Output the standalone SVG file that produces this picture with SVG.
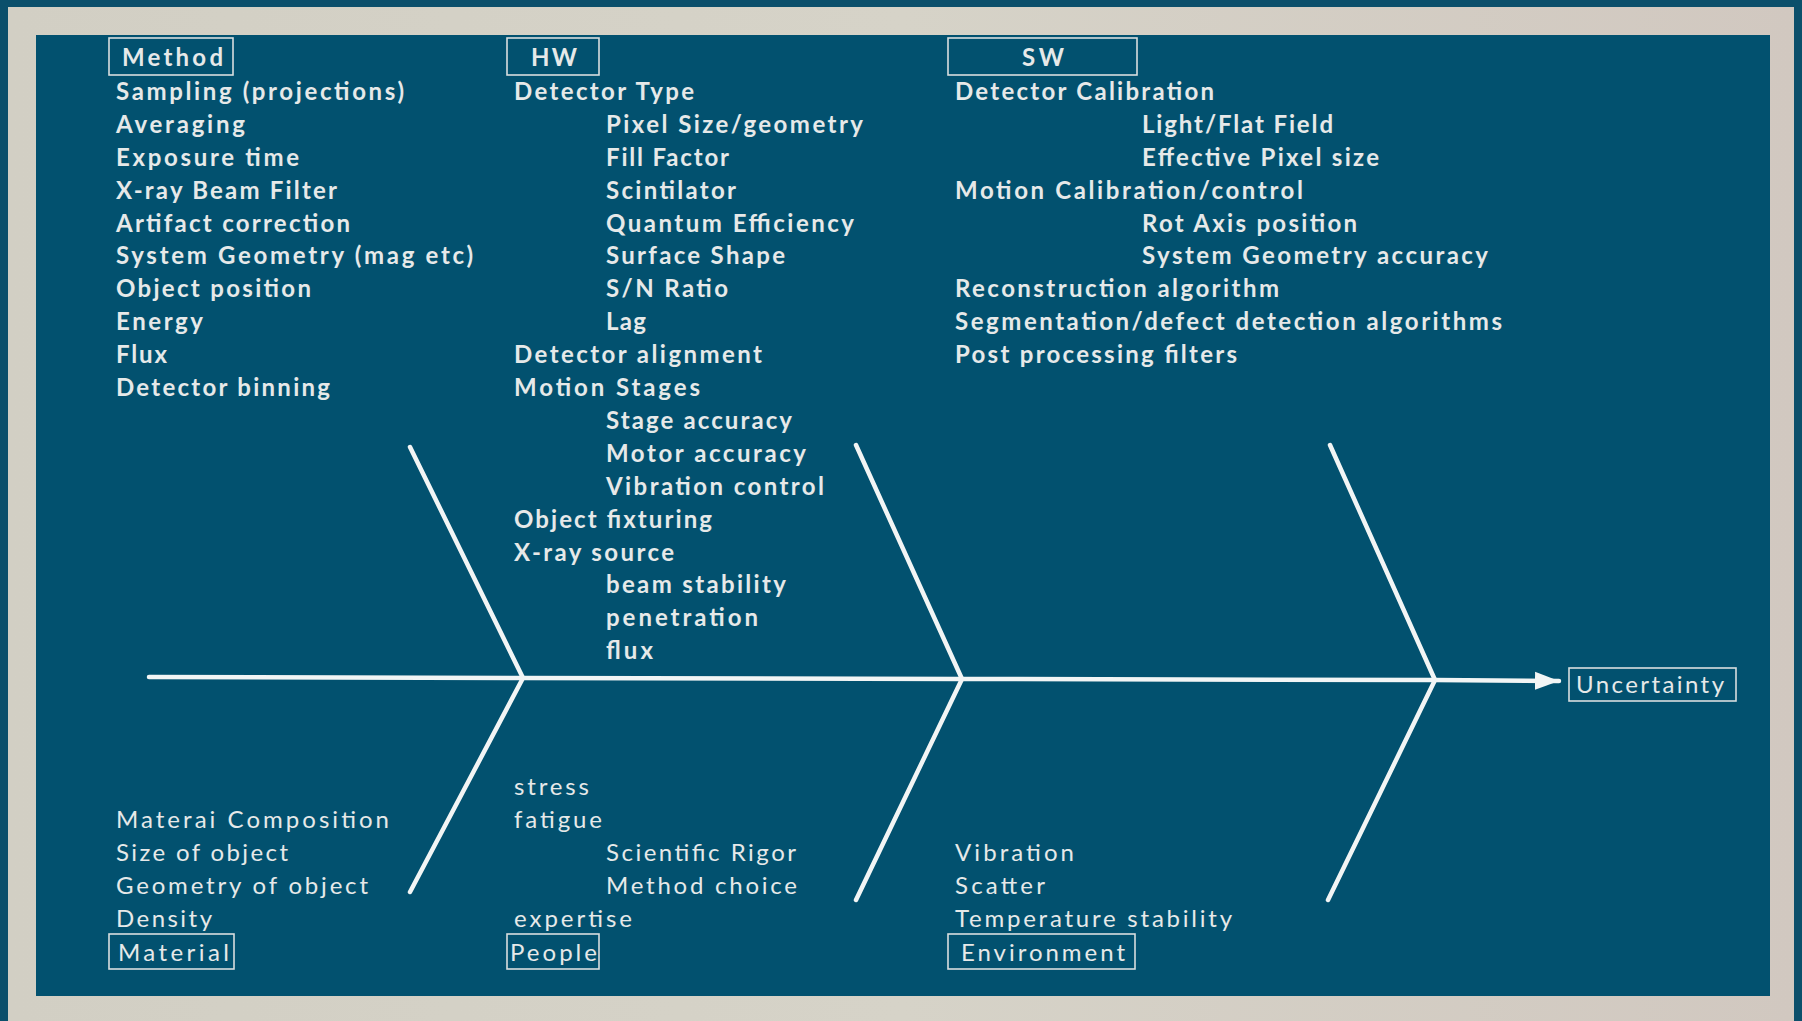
<svg xmlns="http://www.w3.org/2000/svg" width="1802" height="1021" viewBox="0 0 1802 1021">
<defs>
<linearGradient id="frame" x1="0" y1="0" x2="1" y2="0">
<stop offset="0" stop-color="#D2CFC4"/>
<stop offset="0.5" stop-color="#D6D3C8"/>
<stop offset="1" stop-color="#D1C8C0"/>
</linearGradient>
<marker id="arrow" markerUnits="userSpaceOnUse" markerWidth="28" markerHeight="22" refX="24" refY="10" orient="auto">
<path d="M0,1 L24,10 L0,19 Z" fill="#F2F5F5"/>
</marker>
</defs>
<style>
.t{font-family:Lato,"Open Sans","Liberation Sans",sans-serif;font-size:24px;font-weight:bold;fill:#E6E9E9}
.r{font-family:Lato,"Open Sans","Liberation Sans",sans-serif;font-size:24px;font-weight:normal;fill:#E6E9E9}
.box{fill:none;stroke:#D9DEDF;stroke-width:1.6}
.bone{stroke:#F2F5F5;stroke-width:4.5;stroke-linecap:round;fill:none}
</style>
<rect x="0" y="0" width="1802" height="1021" fill="#0B4F6B"/>
<rect x="8" y="7" width="1786" height="1014" fill="url(#frame)"/>
<rect x="36" y="35" width="1734" height="961" fill="#02516F"/>

<g id="connectors">
<polyline class="bone" points="149,677 523,678 962,679 1435,680 1559,681" marker-end="url(#arrow)"/>
<line class="bone" x1="410" y1="447" x2="523" y2="678"/>
<line class="bone" x1="523" y1="678" x2="410" y2="892"/>
<line class="bone" x1="856" y1="445" x2="962" y2="679"/>
<line class="bone" x1="962" y1="679" x2="856" y2="900"/>
<line class="bone" x1="1330" y1="445" x2="1435" y2="680"/>
<line class="bone" x1="1435" y1="680" x2="1328" y2="900"/>
</g>

<g id="method">
<rect class="box" x="109" y="38" width="124" height="37"/>
<text class="t" x="122" y="66" textLength="101">Method</text>
<text class="t" x="116" y="100" textLength="288">Sampling (projections)</text>
<text class="t" x="116" y="133" textLength="129">Averaging</text>
<text class="t" x="116" y="166" textLength="183">Exposure time</text>
<text class="t" x="116" y="199" textLength="221">X-ray Beam Filter</text>
<text class="t" x="116" y="232" textLength="234">Artifact correction</text>
<text class="t" x="116" y="264" textLength="357">System Geometry (mag etc)</text>
<text class="t" x="116" y="297" textLength="195">Object position</text>
<text class="t" x="116" y="330" textLength="87">Energy</text>
<text class="t" x="116" y="363" textLength="51">Flux</text>
<text class="t" x="116" y="396" textLength="214">Detector binning</text>
</g>

<g id="hw">
<rect class="box" x="507" y="38" width="92" height="37"/>
<text class="t" x="531" y="66" textLength="46">HW</text>
<text class="t" x="514" y="100" textLength="180">Detector Type</text>
<text class="t" x="606" y="133" textLength="257">Pixel Size/geometry</text>
<text class="t" x="606" y="166" textLength="123">Fill Factor</text>
<text class="t" x="606" y="199" textLength="130">Scintilator</text>
<text class="t" x="606" y="232" textLength="248">Quantum Efficiency</text>
<text class="t" x="606" y="264" textLength="179">Surface Shape</text>
<text class="t" x="606" y="297" textLength="122">S/N Ratio</text>
<text class="t" x="606" y="330" textLength="40">Lag</text>
<text class="t" x="514" y="363" textLength="248">Detector alignment</text>
<text class="t" x="514" y="396" textLength="186">Motion Stages</text>
<text class="t" x="606" y="429" textLength="186">Stage accuracy</text>
<text class="t" x="606" y="462" textLength="200">Motor accuracy</text>
<text class="t" x="606" y="495" textLength="218">Vibration control</text>
<text class="t" x="514" y="528" textLength="198">Object fixturing</text>
<text class="t" x="514" y="561" textLength="160">X-ray source</text>
<text class="t" x="606" y="593" textLength="180">beam stability</text>
<text class="t" x="606" y="626" textLength="152">penetration</text>
<text class="t" x="606" y="659" textLength="47">flux</text>
</g>

<g id="sw">
<rect class="box" x="948" y="38" width="189" height="37"/>
<text class="t" x="1022" y="66" textLength="42">SW</text>
<text class="t" x="955" y="100" textLength="259">Detector Calibration</text>
<text class="t" x="1142" y="133" textLength="191">Light/Flat Field</text>
<text class="t" x="1142" y="166" textLength="237">Effective Pixel size</text>
<text class="t" x="955" y="199" textLength="348">Motion Calibration/control</text>
<text class="t" x="1142" y="232" textLength="215">Rot Axis position</text>
<text class="t" x="1142" y="264" textLength="346">System Geometry accuracy</text>
<text class="t" x="955" y="297" textLength="324">Reconstruction algorithm</text>
<text class="t" x="955" y="330" textLength="547">Segmentation/defect detection algorithms</text>
<text class="t" x="955" y="363" textLength="282">Post processing filters</text>
</g>

<g id="material">
<rect class="box" x="109" y="934" width="125" height="35"/>
<text class="r" x="118" y="961" textLength="111">Material</text>
<text class="r" x="116" y="828" textLength="273">Materai Composition</text>
<text class="r" x="116" y="861" textLength="172">Size of object</text>
<text class="r" x="116" y="894" textLength="252">Geometry of object</text>
<text class="r" x="116" y="927" textLength="96">Density</text>
</g>

<g id="people">
<rect class="box" x="507" y="934" width="92" height="35"/>
<text class="r" x="510" y="961" textLength="87">People</text>
<text class="r" x="514" y="795" textLength="75">stress</text>
<text class="r" x="514" y="828" textLength="88">fatigue</text>
<text class="r" x="606" y="861" textLength="190">Scientific Rigor</text>
<text class="r" x="606" y="894" textLength="191">Method choice</text>
<text class="r" x="514" y="927" textLength="118">expertise</text>
</g>

<g id="environment">
<rect class="box" x="948" y="934" width="187" height="35"/>
<text class="r" x="961" y="961" textLength="164">Environment</text>
<text class="r" x="955" y="861" textLength="119">Vibration</text>
<text class="r" x="955" y="894" textLength="90">Scatter</text>
<text class="r" x="955" y="927" textLength="277">Temperature stability</text>
</g>

<g id="uncertainty">
<rect class="box" x="1569" y="668" width="167" height="33"/>
<text class="r" x="1576" y="693" textLength="148">Uncertainty</text>
</g>
</svg>
